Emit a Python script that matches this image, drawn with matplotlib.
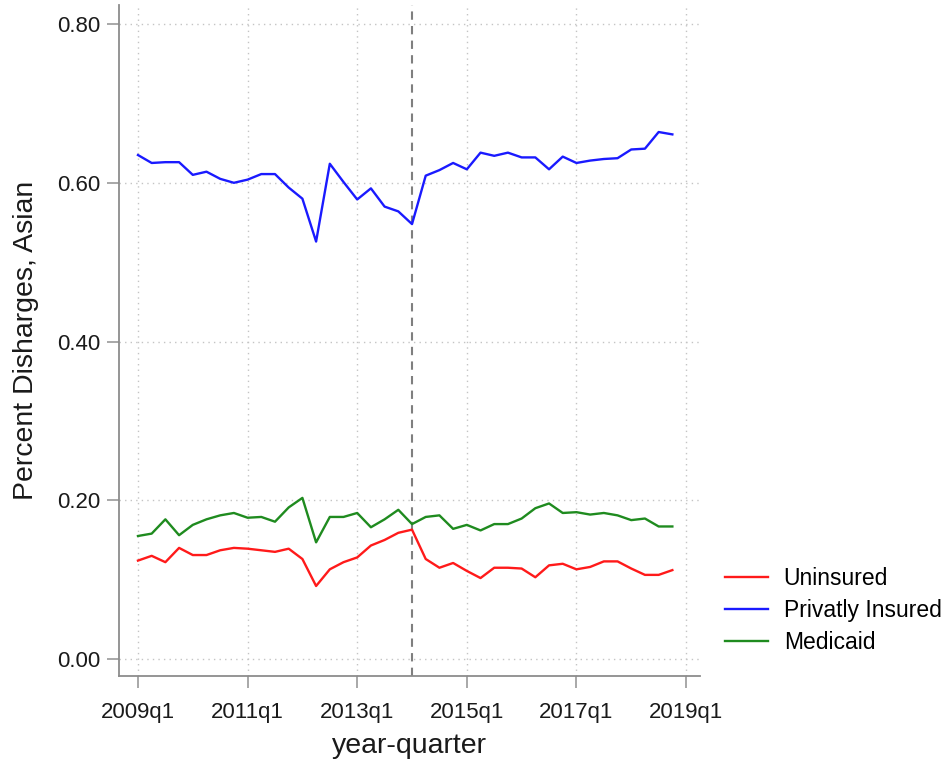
import matplotlib
matplotlib.use("Agg")
import matplotlib.pyplot as plt
import numpy as np

plt.rcParams['font.family'] = ['Liberation Sans', 'DejaVu Sans']

# quarterly series, 2009q1 .. 2018q4
quarters = [f"{y}q{q}" for y in range(2009, 2019) for q in range(1, 5)]

uninsured = [0.124, 0.130, 0.122, 0.140, 0.131, 0.131, 0.137, 0.140, 0.139, 0.137,
             0.135, 0.139, 0.126, 0.092, 0.113, 0.122, 0.128, 0.143, 0.150, 0.159,
             0.163, 0.126, 0.115, 0.121, 0.111, 0.102, 0.115, 0.115, 0.114, 0.103,
             0.118, 0.120, 0.113, 0.116, 0.123, 0.123, 0.114, 0.106, 0.106, 0.112]

private = [0.635, 0.625, 0.626, 0.626, 0.610, 0.614, 0.605, 0.600, 0.604, 0.611,
           0.611, 0.594, 0.580, 0.526, 0.624, 0.601, 0.579, 0.593, 0.570, 0.564,
           0.548, 0.609, 0.616, 0.625, 0.617, 0.638, 0.634, 0.638, 0.632, 0.632,
           0.617, 0.633, 0.625, 0.628, 0.630, 0.631, 0.642, 0.643, 0.664, 0.661]

medicaid = [0.155, 0.158, 0.176, 0.156, 0.169, 0.176, 0.181, 0.184, 0.178, 0.179,
            0.173, 0.191, 0.203, 0.147, 0.179, 0.179, 0.184, 0.166, 0.176, 0.188,
            0.170, 0.179, 0.181, 0.164, 0.169, 0.162, 0.170, 0.170, 0.177, 0.190,
            0.196, 0.184, 0.185, 0.182, 0.184, 0.181, 0.175, 0.177, 0.167, 0.167]

tick_labels = ["2009q1", "2011q1", "2013q1", "2015q1", "2017q1", "2019q1"]
policy_quarter = "2014q1"

x = np.arange(len(quarters))
tick_pos = [8 * i for i in range(len(tick_labels))]
vline_x = quarters.index(policy_quarter)

fig = plt.figure(figsize=(9.51, 7.61), dpi=100)
ax = fig.add_axes([0.1251, 0.1117, 0.611, 0.8817])

grid_kw = dict(color="#c4c4c4", linestyle=(0, (1, 3)), linewidth=1.0, zorder=0)
for t in tick_pos:
    ax.axvline(t, **grid_kw)
for v in [0.0, 0.2, 0.4, 0.6, 0.8]:
    ax.axhline(v, **grid_kw)

ax.axvline(vline_x, color="#7f7f7f", linestyle=(0, (4, 3)), linewidth=1.5, zorder=1)

l1, = ax.plot(x, uninsured, color="#ff1a1a", lw=1.7, label="Uninsured")
l2, = ax.plot(x, private, color="#1a1aff", lw=1.7, label="Privatly Insured")
l3, = ax.plot(x, medicaid, color="#1f8b1f", lw=1.7, label="Medicaid")

ax.set_xlim(-1.387, 41.02)
ax.set_ylim(-0.0214, 0.824)

ax.set_xticks(tick_pos)
ax.set_xticklabels(tick_labels)
ax.set_yticks([0.0, 0.2, 0.4, 0.6, 0.8])
ax.set_yticklabels(["0.00", "0.20", "0.40", "0.60", "0.80"])
ax.tick_params(axis="both", direction="out", length=8.5, width=1.2, color="#999999",
               labelsize=16, labelcolor="#1a1a1a", pad=5)
ax.tick_params(axis="x", pad=10.5)

for side in ["top", "right"]:
    ax.spines[side].set_visible(False)
for side in ["left", "bottom"]:
    ax.spines[side].set_color("#8c8c8c")
    ax.spines[side].set_linewidth(1.3)

ax.set_xlabel("year-quarter", fontsize=20.5, color="#1a1a1a", labelpad=7)
ax.set_ylabel("Percent Disharges, Asian", fontsize=20.5, color="#1a1a1a", labelpad=13)

fig.legend(handles=[l1, l2, l3], loc="center left", bbox_to_anchor=(0.753, 0.198),
           frameon=False, fontsize=16.5, handlelength=1.85, handletextpad=0.7,
           labelspacing=0.4, borderaxespad=0)

fig.savefig("out.png", dpi=100, facecolor="white")
